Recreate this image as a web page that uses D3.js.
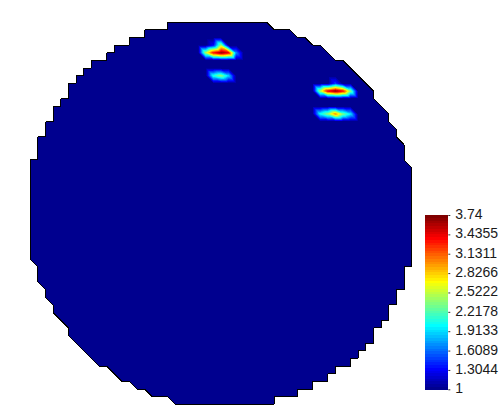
<!DOCTYPE html>
<html><head><meta charset="utf-8">
<script src="https://cdn.jsdelivr.net/npm/d3@7"></script>
<style>html,body{margin:0;padding:0;background:#fff;} svg{display:block}</style>
</head><body><svg id="chart" width="504" height="416"></svg>
<script>
// ---- mesh domain: first / last included node index of each node row (0..50)
const rowFirstNode = [18,15,13,11,10,8,7,6,5,5,4,3,3,2,2,1,1,1,0,
  0,0,0,0,0,0,0,0,0,0,0,0,0,
  1,1,1,2,2,3,3,4,5,5,6,7,8,9,11,12,14,16,19];
const rowLastNode = [31,34,36,38,39,41,42,43,44,45,45,46,47,47,48,48,49,49,49,
  50,50,50,50,50,50,50,50,50,50,50,50,50,50,
  49,49,49,48,48,47,47,46,45,45,44,43,42,40,39,37,35,32];

// ---- nodal values above the base value 1 (hot spots)
const spotRow = [3, 4, 7, 8, 9, 12];
const spotFirstCol = [24, 23, 24, 40, 38, 38];
const spotValues = [
  [1.3, 2.45],
  [2.5, 3.4, 3.72, 3.45, 1.7],
  [2.1, 2.4, 1.9],
  [1.45],
  [2.5, 3.45, 3.74, 3.4, 2.35],
  [2.05, 2.4, 3.05, 2.35, 1.95]
];
const baseValue = 1;
const cMin = 1, cMax = 3.74;
const tickLabels = ["1","1.3044","1.6089","1.9133","2.2178","2.5222","2.8266","3.1311","3.4355","3.74"];
const nColors = 64;
const nCells = 50;

// ---- jet colormap
function jet(m){
  const n = Math.ceil(m/4), u = [];
  for (let i=1;i<=n;i++) u.push(i/n);
  for (let i=1;i<n;i++) u.push(1);
  for (let i=n;i>=1;i--) u.push(i/n);
  const g0 = Math.ceil(n/2) - (m%4===1?1:0);
  const J = Array.from({length:m}, ()=>[0,0,0]);
  u.forEach((val, idx)=>{
    const g = g0+idx+1, r = g+n, b = g-n;
    if (g>=1&&g<=m) J[g-1][1]=val;
    if (r>=1&&r<=m) J[r-1][0]=val;
    if (b>=1&&b<=m) J[b-1][2]=val;
  });
  return J.map(c=>d3.rgb(Math.round(c[0]*255),Math.round(c[1]*255),Math.round(c[2]*255)).formatHex());
}
const cmap = jet(nColors);

const svg = d3.select("#chart");
const x = d3.scaleLinear().domain([0,nCells]).range([30.3,411.7]);
const y = d3.scaleLinear().domain([0,nCells]).range([22.3,404.3]);

// node values
const val = {};
spotRow.forEach((r,s)=>{ spotValues[s].forEach((v,k)=>{ val[(spotFirstCol[s]+k)+","+r]=v; }); });
const V = (i,j)=> val[i+","+j] ?? baseValue;
const inside = (i,j)=> j>=0 && j<=nCells && i>=rowFirstNode[j] && i<=rowLastNode[j];

// triangles ("\" split)
const tris = [];
for (let j=0;j<nCells;j++) for (let i=0;i<nCells;i++){
  const ur = [[i,j],[i+1,j],[i+1,j+1]];
  const ll = [[i,j],[i+1,j+1],[i,j+1]];
  [ur,ll].forEach(t=>{ if (t.every(p=>inside(p[0],p[1]))) tris.push(t); });
}
const polyPath = pts => "M"+pts.map(p=>x(p[0]).toFixed(2)+","+y(p[1]).toFixed(2)).join("L")+"Z";

// base fill
svg.append("path").attr("d", tris.map(polyPath).join(""))
  .attr("fill", cmap[0]).attr("shape-rendering","crispEdges");

// colour bands
function clip(pts, vals, t){
  const out = [];
  for (let a=0;a<pts.length;a++){
    const b=(a+1)%pts.length, va=vals[a], vb=vals[b];
    if (va>=t) out.push(pts[a]);
    if ((va>=t)!==(vb>=t)){
      const f=(t-va)/(vb-va);
      out.push([pts[a][0]+f*(pts[b][0]-pts[a][0]), pts[a][1]+f*(pts[b][1]-pts[a][1])]);
    }
  }
  return out;
}
const hotTris = tris.map(t=>({t, v:t.map(p=>V(p[0],p[1]))})).filter(o=>d3.max(o.v)>baseValue);
const bandG = svg.append("g");
for (let k=1;k<nColors;k++){
  const thr = cMin + k*(cMax-cMin)/nColors;
  let d = "";
  hotTris.forEach(o=>{
    if (d3.max(o.v) <= thr) return;
    const c = clip(o.t, o.v, thr);
    if (c.length>=3) d += polyPath(c);
  });
  if (d) bandG.append("path").attr("d", d).attr("fill", cmap[k]).attr("shape-rendering","crispEdges");
}

// outline (edges used by only one triangle)
const edgeCount = new Map();
tris.forEach(t=>{ for (let a=0;a<3;a++){ const p=t[a], q=t[(a+1)%3];
  const key = [p.join(","), q.join(",")].sort().join("|");
  edgeCount.set(key, (edgeCount.get(key)||0)+1); }});
let od = "";
edgeCount.forEach((c,key)=>{ if (c===1){ const [p,q]=key.split("|").map(s=>s.split(",").map(Number));
  od += "M"+x(p[0]).toFixed(2)+","+y(p[1]).toFixed(2)+"L"+x(q[0]).toFixed(2)+","+y(q[1]).toFixed(2); }});
svg.append("path").attr("d", od).attr("fill","none").attr("stroke","#000").attr("stroke-width",1)
  .attr("shape-rendering","crispEdges");

// colour bar
const cb = d3.scaleLinear().domain([cMin,cMax]).range([389.3,215]);
const cbX = 425, cbW = 23.3;
const cbG = svg.append("g");
cbG.selectAll("rect").data(d3.range(nColors)).join("rect")
  .attr("x", cbX).attr("width", cbW)
  .attr("y", k=>cb(cMin+(k+1)*(cMax-cMin)/nColors))
  .attr("height", k=>cb(cMin+k*(cMax-cMin)/nColors)-cb(cMin+(k+1)*(cMax-cMin)/nColors)+0.3)
  .attr("fill", k=>cmap[k]).attr("shape-rendering","crispEdges");
const axis = d3.axisRight(cb).tickValues(tickLabels.map(Number)).tickFormat((d,i)=>tickLabels[i])
  .tickSize(2).tickPadding(5);
const ax = svg.append("g").attr("transform",`translate(${cbX+cbW},0)`).call(axis);
ax.select(".domain").remove();
ax.selectAll(".tick line").attr("stroke","#333");
ax.selectAll(".tick text").attr("font-family","'Liberation Sans', Arial, sans-serif")
  .attr("font-size",14).attr("fill","#1a1a1a").attr("dy","0.25em");
</script></body></html>
